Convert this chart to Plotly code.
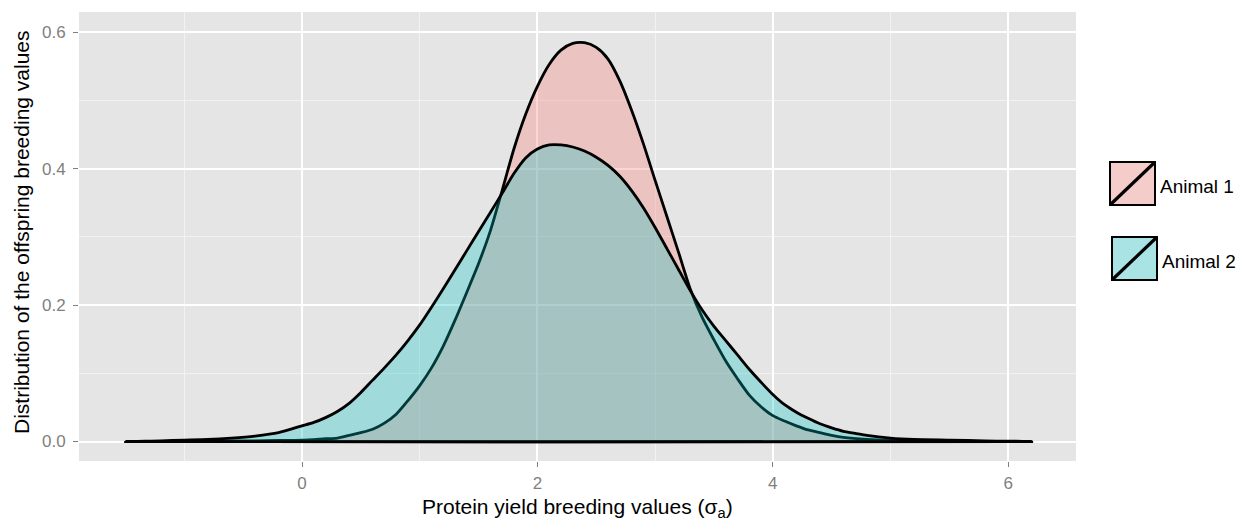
import plotly.graph_objects as go

# ---------------- data ----------------
series_names = ["Animal 1", "Animal 2"]

animal1_x = [-1.22, -0.8, -0.4, -0.2, 0.0, 0.2, 0.3, 0.4, 0.5, 0.6, 0.7, 0.8, 0.9,
             1.0, 1.1, 1.2, 1.3, 1.4, 1.5, 1.6, 1.7, 1.8, 1.9, 2.0, 2.1, 2.2, 2.3,
             2.4, 2.5, 2.6, 2.7, 2.8, 2.9, 3.0, 3.1, 3.2, 3.3, 3.4, 3.5, 3.6, 3.7,
             3.8, 3.9, 4.0, 4.1, 4.2, 4.3, 4.4, 4.5, 4.6, 4.8, 5.0, 5.3, 5.63]
animal1_y = [0.0, 0.0005, 0.001, 0.0015, 0.002, 0.004, 0.005, 0.009, 0.013, 0.018,
             0.027, 0.040, 0.060, 0.082, 0.108, 0.140, 0.178, 0.219, 0.261, 0.309,
             0.368, 0.429, 0.480, 0.521, 0.553, 0.574, 0.584, 0.585, 0.578, 0.561,
             0.529, 0.486, 0.437, 0.383, 0.330, 0.277, 0.223, 0.182, 0.149, 0.118,
             0.092, 0.068, 0.051, 0.038, 0.030, 0.023, 0.017, 0.013, 0.009, 0.006,
             0.003, 0.0015, 0.0008, 0.0]

animal2_x = [-1.5, -1.2, -1.0, -0.8, -0.6, -0.4, -0.2, 0.0, 0.1, 0.2, 0.3, 0.4, 0.5,
             0.6, 0.7, 0.8, 0.9, 1.0, 1.1, 1.2, 1.3, 1.4, 1.5, 1.6, 1.7, 1.8, 1.9,
             2.0, 2.1, 2.2, 2.3, 2.4, 2.5, 2.6, 2.7, 2.8, 2.9, 3.0, 3.1, 3.2, 3.3,
             3.4, 3.5, 3.6, 3.7, 3.8, 3.9, 4.0, 4.1, 4.2, 4.3, 4.4, 4.5, 4.6, 4.7,
             4.8, 5.0, 5.2, 5.5, 5.8, 6.2]
animal2_y = [0.0, 0.001, 0.002, 0.003, 0.005, 0.008, 0.013, 0.023, 0.028, 0.035,
             0.044, 0.056, 0.072, 0.090, 0.108, 0.127, 0.148, 0.171, 0.197, 0.224,
             0.252, 0.280, 0.308, 0.336, 0.364, 0.393, 0.416, 0.429, 0.435, 0.435,
             0.432, 0.426, 0.417, 0.405, 0.389, 0.368, 0.343, 0.314, 0.283, 0.252,
             0.221, 0.193, 0.169, 0.148, 0.127, 0.106, 0.087, 0.069, 0.054, 0.043,
             0.034, 0.026, 0.020, 0.015, 0.012, 0.009, 0.005, 0.003, 0.002, 0.001, 0.0]

x_ticks = [0, 2, 4, 6]
x_tick_labels = ["0", "2", "4", "6"]
y_ticks = [0.0, 0.2, 0.4, 0.6]
y_tick_labels = ["0.0", "0.2", "0.4", "0.6"]

x_title = "Protein yield breeding values (σ<sub>a</sub>)"
y_title = "Distribution of the offspring breeding values"

# ---------------- styles ----------------
fill_colors = ["rgba(248,118,109,0.3)", "rgba(0,191,196,0.3)"]
key_colors = ["rgb(244,205,202)", "rgb(169,227,228)"]
FONT = "Liberation Sans, Arial, sans-serif"

W, H = 1245, 521
L, R, T, B = 79, 169, 12, 60
PW, PH = W - L - R, H - T - B


def px_x(px):
    return (px - L) / PW


def px_y(py):
    return (H - B - py) / PH


fig = go.Figure()
for name, xs, ys, fc in [(series_names[0], animal1_x, animal1_y, fill_colors[0]),
                         (series_names[1], animal2_x, animal2_y, fill_colors[1])]:
    fig.add_trace(go.Scatter(
        x=list(xs) + [xs[0]], y=list(ys) + [0.0],
        mode="lines", fill="toself", fillcolor=fc, name=name,
        line=dict(color="black", width=2.8, shape="spline", smoothing=0.7),
        showlegend=False, hoverinfo="skip",
    ))

axis_common = dict(
    showline=False, zeroline=False, ticks="outside", ticklen=5, tickwidth=1,
    tickcolor="#7F7F7F", gridcolor="white", gridwidth=1.6,
    tickfont=dict(family=FONT, size=17, color="#7F7F7F"),
)
fig.update_xaxes(range=[-1.895, 6.576], tickvals=x_ticks, ticktext=x_tick_labels,
                 ticklabelstandoff=2,
                 minor=dict(dtick=1, tick0=1, showgrid=True, gridcolor="#F2F2F2",
                            gridwidth=1, ticks=""),
                 **axis_common)
fig.update_yaxes(range=[-0.0286, 0.630], tickvals=y_ticks, ticktext=y_tick_labels,
                 ticklabelstandoff=4,
                 minor=dict(dtick=0.1, tick0=0.1, showgrid=True, gridcolor="#F2F2F2",
                            gridwidth=1, ticks=""),
                 **axis_common)

shapes = []
annotations = []
# legend keys (drawn manually, ggplot style)
keys = [(1110, 162, 1155, 205, 1158, 186), (1112, 237, 1157, 280, 1160, 261)]
for (x0, y0, x1, y1, tx, ty), kc, name in zip(keys, key_colors, series_names):
    shapes.append(dict(type="rect", xref="paper", yref="paper",
                       x0=px_x(x0), x1=px_x(x1), y0=px_y(y1), y1=px_y(y0),
                       fillcolor=kc, line=dict(color="black", width=2)))
    shapes.append(dict(type="line", xref="paper", yref="paper",
                       x0=px_x(x0 + 1), x1=px_x(x1 - 1), y0=px_y(y1 - 1), y1=px_y(y0 + 1),
                       line=dict(color="black", width=3.2)))
    annotations.append(dict(text=name, xref="paper", yref="paper", x=px_x(tx), y=px_y(ty),
                            xanchor="left", yanchor="middle", showarrow=False,
                            font=dict(family=FONT, size=19, color="black")))

annotations.append(dict(text=x_title, xref="paper", yref="paper", x=px_x(577), y=px_y(508),
                        xanchor="center", yanchor="middle", showarrow=False,
                        font=dict(family=FONT, size=21, color="black")))
annotations.append(dict(text=y_title, xref="paper", yref="paper", x=px_x(22), y=px_y(232),
                        xanchor="center", yanchor="middle", showarrow=False, textangle=-90,
                        font=dict(family=FONT, size=21, color="black")))

fig.update_layout(
    width=W, height=H, margin=dict(l=L, r=R, t=T, b=B),
    paper_bgcolor="white", plot_bgcolor="#E5E5E5",
    shapes=shapes, annotations=annotations, showlegend=False,
    font=dict(family=FONT),
)

fig.write_html("out.html")
